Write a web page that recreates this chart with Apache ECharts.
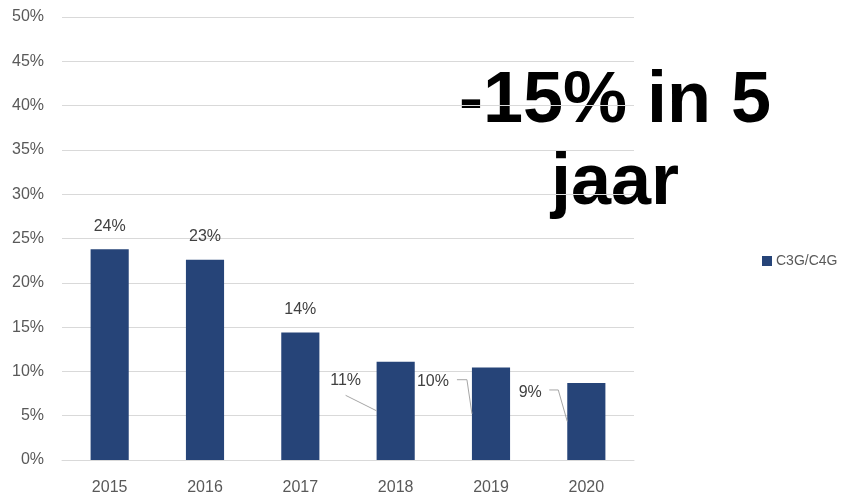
<!DOCTYPE html>
<html>
<head>
<meta charset="utf-8">
<script src="https://cdn.jsdelivr.net/npm/echarts@6/dist/echarts.min.js"></script>
<style>
  html, body { margin: 0; padding: 0; background: #ffffff; }
  #chart { width: 853px; height: 497px; }
</style>
</head>
<body>
<div id="chart"></div>
<script>
// Share of C3G/C4G per year (percent)
const years = ['2015', '2016', '2017', '2018', '2019', '2020'];
const shareValues = [23.8, 22.6, 14.4, 11.1, 10.45, 8.7];
const seriesName = 'C3G/C4G';
const yTicks = { min: 0, max: 50, interval: 5 };
const headline = '-15% in 5\njaar';

// Callout placement (pixel offsets from the left edge of a bar at half its height)
const callouts = {
  3: { label: [-31, -30.5], line: [[-31, -15.5], [0, 0]] },
  4: { label: [-39, -32.5], line: [[-15, -34], [-5, -34], [0, 0]] },
  5: { label: [-37, -29],   line: [[-18, -31.5], [-9, -31.5], [0, 0]] }
};

const FONT = '"Liberation Sans", Arial, sans-serif';
const BAR_COLOR = '#264478';
const TEXT_COLOR = '#404040';
const AXIS_TEXT = '#595959';
const GRID_COLOR = '#d9d9d9';
const BAR_RATIO = 0.4;

const fmtPct = v => Math.round(v) + '%';

const chart = echarts.init(document.getElementById('chart'), null, { renderer: 'canvas' });

chart.setOption({
  animation: false,
  backgroundColor: '#ffffff',
  grid: { left: 62, right: 219, top: 17, bottom: 37, containLabel: false },
  legend: {
    data: [seriesName],
    left: 757,
    top: 249,
    icon: 'rect',
    itemWidth: 10,
    itemHeight: 10,
    itemGap: 10,
    textStyle: { color: AXIS_TEXT, fontFamily: FONT, fontSize: 14, padding: [0, 0, 0, -1] }
  },
  xAxis: {
    type: 'category',
    data: years,
    axisLine: { show: true, lineStyle: { color: GRID_COLOR, width: 1 } },
    axisTick: { show: false },
    axisLabel: { color: AXIS_TEXT, fontFamily: FONT, fontSize: 16, margin: 20 }
  },
  yAxis: {
    type: 'value',
    min: yTicks.min,
    max: yTicks.max,
    interval: yTicks.interval,
    axisLine: { show: false },
    axisTick: { show: false },
    splitLine: { lineStyle: { color: GRID_COLOR, width: 1 } },
    axisLabel: { color: AXIS_TEXT, fontFamily: FONT, fontSize: 16, margin: 18, formatter: v => v + '%' }
  },
  graphic: [{
    type: 'text',
    left: 615 - 170,
    top: 61,
    style: {
      text: headline,
      font: 'bold 72px ' + FONT,
      fill: '#000000',
      textAlign: 'center',
      lineHeight: 82,
      width: 340
    }
  }],
  series: [
    {
      name: seriesName,
      type: 'bar',
      barWidth: (BAR_RATIO * 100) + '%',
      itemStyle: { color: BAR_COLOR },
      label: {
        show: true,
        position: 'top',
        distance: 15,
        color: TEXT_COLOR,
        fontFamily: FONT,
        fontSize: 16,
        formatter: p => fmtPct(p.value)
      },
      data: shareValues.map((v, i) => ({ value: v, label: { show: !callouts[i] } }))
    },
    {
      name: 'callouts',
      type: 'custom',
      silent: true,
      z: 5,
      encode: { x: 0, y: 1 },
      data: shareValues.map((v, i) => [i, v]).filter(d => callouts[d[0]]),
      renderItem: function (params, api) {
        const idx = api.value(0);
        const val = api.value(1);
        const c = callouts[idx];
        const mid = api.coord([idx, val / 2]);
        const halfBar = api.size([1, 0])[0] * BAR_RATIO / 2;
        const ax = mid[0] - halfBar;
        const ay = mid[1];
        return {
          type: 'group',
          children: [
            {
              type: 'polyline',
              shape: { points: c.line.map(p => [ax + p[0], ay + p[1]]) },
              style: { stroke: '#a6a6a6', lineWidth: 1, fill: null }
            },
            {
              type: 'text',
              style: {
                text: fmtPct(val),
                x: ax + c.label[0],
                y: ay + c.label[1],
                align: 'center',
                verticalAlign: 'middle',
                fill: TEXT_COLOR,
                font: '16px ' + FONT
              }
            }
          ]
        };
      }
    }
  ]
});
</script>
</body>
</html>
